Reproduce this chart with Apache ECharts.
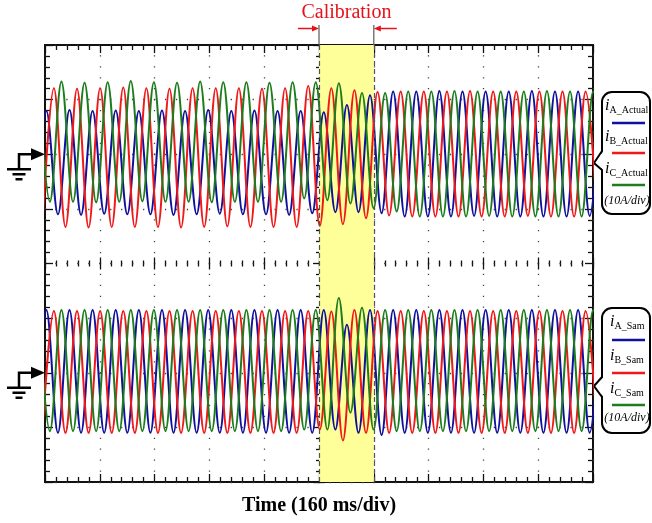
<!DOCTYPE html>
<html><head><meta charset="utf-8">
<script src="https://cdn.jsdelivr.net/npm/echarts@6/dist/echarts.min.js"></script>
<style>html,body{margin:0;padding:0;background:#fff}#c{width:652px;height:523px}</style>
</head><body><div id="c"></div>
<script>
// ---- data ----
// time of each peak / trough (ms); phase A, B, C
const tA = [-29.8, 4, 37.8, 71.5, 105.3, 139, 172.8, 206.5, 240.3, 274,
  307.8, 341.5, 375.3, 409, 442.8, 476.5, 510.3, 544, 577.8, 611.5,
  645.3, 679, 712.8, 746.5, 780.3, 814, 847.8, 881.5, 915.3, 949,
  982.8, 1016.5, 1050.3, 1084, 1117.8, 1151.5, 1185.3, 1219, 1252.8, 1286.5,
  1320.3, 1354, 1387.8, 1421.5, 1455.3, 1489, 1522.8, 1556.5, 1590.3, 1624];
const tB = [-7.8, 26, 59.8, 93.5, 127.3, 161, 194.8, 228.5, 262.3, 296,
  329.8, 363.5, 397.3, 431, 464.8, 498.5, 532.3, 566, 599.8, 633.5,
  667.3, 701, 734.8, 768.5, 802.3, 836, 869.8, 903.5, 937.3, 971,
  1004.8, 1038.5, 1072.3, 1106, 1139.8, 1173.5, 1207.3, 1241, 1274.8, 1308.5,
  1342.3, 1376, 1409.8, 1443.5, 1477.3, 1511, 1544.8, 1578.5, 1612.3];
const tC = [-19.5, 14.3, 48, 81.8, 115.5, 149.3, 183, 216.8, 250.5, 284.3,
  318, 351.8, 385.5, 419.3, 453, 486.8, 520.5, 554.3, 588, 621.8,
  655.5, 689.3, 723, 756.8, 790.5, 824.3, 858, 891.8, 925.5, 959.3,
  993, 1026.8, 1060.5, 1094.3, 1128, 1161.8, 1195.5, 1229.3, 1263, 1296.8,
  1330.5, 1364.3, 1398, 1431.8, 1465.5, 1499.3, 1533, 1566.8, 1600.5, 1634.3];

// actual currents (A) at those instants
const actualA = [-11.0, 7.9, -11.0, 8.1, -11.1, 7.9, -10.9, 8.0, -11.0, 7.9,
  -11.0, 8.0, -11.1, 7.9, -11.0, 8.1, -10.9, 7.9, -11.0, 8.0,
  -11.0, 7.9, -11.1, 7.9, -10.8, 7.7, -10.6, 9.0, -10.6, 10.8,
  -10.8, 11.5, -11.4, 11.5, -11.4, 11.6, -11.4, 11.5, -11.3, 11.5,
  -11.4, 11.5, -11.4, 11.6, -11.4, 11.5, -11.4, 11.5, -11.3, 11.5];
const actualB = [-13.3, 12.1, -13.3, 12.0, -13.4, 12.1, -13.3, 12.2, -13.3, 12.1,
  -13.3, 12.0, -13.4, 12.1, -13.3, 12.1, -13.2, 12.1, -13.3, 12.0,
  -13.3, 12.1, -13.3, 12.5, -13.1, 12.1, -12.8, 11.7, -11.7, 11.4,
  -11.2, 11.5, -11.4, 11.5, -11.4, 11.5, -11.4, 11.6, -11.4, 11.5,
  -11.4, 11.5, -11.3, 11.5, -11.4, 11.5, -11.4, 11.5, -11.4];
const actualC = [13.2, -8.7, 13.3, -8.7, 13.1, -8.8, 13.2, -8.7, 13.4, -8.6,
  13.2, -8.7, 13.1, -8.7, 13.3, -8.8, 13.2, -8.7, 13.2, -8.7,
  13.1, -8.7, 13.2, -8.1, 13.2, -8.4, 13.0, -9.0, 11.2, -9.9,
  11.2, -10.5, 11.5, -11.4, 11.5, -11.4, 11.6, -11.4, 11.5, -11.3,
  11.5, -11.4, 11.5, -11.4, 11.6, -11.4, 11.5, -11.4, 11.5, -11.4];

// sampled currents (A)
const samA = [-11.0, 11.5, -11.0, 11.5, -11.0, 11.5, -11.0, 11.5, -11.0, 11.5,
  -11.0, 11.5, -11.0, 11.5, -11.0, 11.5, -11.0, 11.5, -11.0, 11.5,
  -11.0, 11.5, -11.0, 11.5, -11.0, 11.5, -10.4, 8.8, -11.0, 11.5,
  -11.4, 11.5, -11.0, 11.5, -11.0, 11.5, -11.0, 11.5, -11.0, 11.5,
  -11.0, 11.5, -11.0, 11.5, -11.0, 11.5, -11.0, 11.5, -11.0, 11.5];
const samB = [-11.0, 11.3, -11.0, 11.3, -11.0, 11.3, -11.0, 11.3, -11.0, 11.3,
  -11.0, 11.3, -11.0, 11.3, -11.0, 11.3, -11.0, 11.3, -11.0, 11.3,
  -11.0, 11.3, -11.0, 11.3, -10.4, 11.2, -12.4, 11.5, -11.0, 11.3,
  -11.0, 11.3, -11.0, 11.3, -11.0, 11.3, -11.0, 11.3, -11.0, 11.3,
  -11.0, 11.3, -11.0, 11.3, -11.0, 11.3, -11.0, 11.3, -11.0];
const samC = [11.5, -10.7, 11.5, -10.7, 11.5, -10.7, 11.5, -10.7, 11.5, -10.7,
  11.5, -10.7, 11.5, -10.7, 11.5, -10.7, 11.5, -10.7, 11.5, -10.7,
  11.5, -10.7, 11.5, -10.4, 11.5, -10.4, 13.7, -7.3, 11.9, -10.4,
  11.5, -10.7, 11.5, -10.7, 11.5, -10.7, 11.5, -10.7, 11.5, -10.7,
  11.5, -10.7, 11.5, -10.7, 11.5, -10.7, 11.5, -10.7, 11.5, -10.7];

const calStart = 800, calEnd = 960;      // calibration window (ms)
const timePerDiv = 160, timeMax = 1600;  // ms
const ampPerDiv = 10;                    // A per division
const upperRange = [-60, 20], lowerRange = [-20, 60];
const seriesNames = ['iA_Actual', 'iB_Actual', 'iC_Actual', 'iA_Sam', 'iB_Sam', 'iC_Sam'];
const subLabels = [['A', '_Actual'], ['B', '_Actual'], ['C', '_Actual'], ['A', '_Sam'], ['B', '_Sam'], ['C', '_Sam']];
const divLabel = '(10A/div)';
const xTitle = 'Time (160 ms/div)';
const calLabel = 'Calibration';

// ---- styling ----
const SERIF = '"Liberation Serif","DejaVu Serif","Times New Roman",serif';
const COL = { A: '#10109e', B: '#f01818', C: '#1d7d1d' };
const TICK = '#111';
const pair = (t, v) => t.map((x, i) => [x, v[i]]);

function wave(name, t, v, color, yIdx) {
  return { name, type: 'line', xAxisIndex: 0, yAxisIndex: yIdx, data: pair(t, v),
    smooth: 0.36, showSymbol: false, symbol: 'none', silent: true, z: 3,
    lineStyle: { color, width: 2 }, itemStyle: { color } };
}
function xAx(o) {
  return Object.assign({ type: 'value', min: 0, max: timeMax, interval: timePerDiv,
    axisLine: { show: false, onZero: false }, axisLabel: { show: false },
    splitLine: { show: false } }, o);
}
function yAx(o) {
  return Object.assign({ type: 'value', min: upperRange[0], max: upperRange[1], interval: ampPerDiv,
    axisLine: { show: false, onZero: false }, axisLabel: { show: false },
    splitLine: { show: false } }, o);
}
const tk = (inside, len) => ({ show: true, inside, length: len, lineStyle: { color: TICK, width: 1.3 } });
const mtk = (len) => ({ show: true, splitNumber: 5, length: len, lineStyle: { color: TICK, width: 1.3 } });

const chart = echarts.init(document.getElementById('c'), null, { renderer: 'canvas' });
const GRID = { left: 45, top: 45, width: 548, height: 437 };

const option = {
  animation: false,
  backgroundColor: '#fff',
  grid: Object.assign({ show: true, borderColor: '#111', borderWidth: 2, backgroundColor: 'transparent',
    containLabel: false, outerBoundsMode: 'none' }, GRID),
  xAxis: [
    xAx({ position: 'bottom', axisTick: tk(true, 8), minorTick: mtk(5),
      name: xTitle, nameLocation: 'middle', nameGap: 14,
      nameTextStyle: { fontFamily: SERIF, fontWeight: 'bold', fontSize: 20, color: '#000' },
      splitLine: { show: true, lineStyle: { color: '#444', width: 1.3, type: [1.3, 9.625], dashOffset: 0.65, cap: 'butt' } } }),
    xAx({ position: 'top', axisTick: tk(true, 8), minorTick: mtk(5) }),
    xAx({ position: 'bottom', offset: -GRID.height / 2, axisTick: tk(true, 6), minorTick: mtk(3) }),
    xAx({ position: 'bottom', offset: -GRID.height / 2, axisTick: tk(false, 6), minorTick: mtk(3) })
  ],
  yAxis: [
    yAx({ position: 'left', axisTick: tk(true, 8), minorTick: mtk(5),
      splitLine: { show: true, lineStyle: { color: '#444', width: 1.3, type: [1.3, 9.66], dashOffset: 0.65, cap: 'butt' } } }),
    yAx({ position: 'right', min: lowerRange[0], max: lowerRange[1], axisTick: tk(true, 8), minorTick: mtk(5) }),
    yAx({ position: 'left', offset: -GRID.width / 2, axisTick: tk(true, 6), minorTick: mtk(3) }),
    yAx({ position: 'left', offset: -GRID.width / 2, axisTick: tk(false, 6), minorTick: mtk(3) })
  ],
  series: [
    { name: 'calibration', type: 'line', xAxisIndex: 0, yAxisIndex: 0, data: [[calStart, 0]],
      showSymbol: false, symbol: 'none', lineStyle: { opacity: 0 }, silent: true, z: -1,
      markArea: { silent: true, itemStyle: { color: '#ffff99', opacity: 1 },
        data: [[{ xAxis: calStart }, { xAxis: calEnd }]] } },
    { name: 'calEdges', type: 'line', xAxisIndex: 0, yAxisIndex: 0, data: [[calStart, 0]],
      showSymbol: false, symbol: 'none', lineStyle: { opacity: 0 }, silent: true, z: 1,
      markLine: { silent: true, symbol: 'none', label: { show: false },
        lineStyle: { color: '#555', type: [5, 3], width: 1.2 },
        data: [{ xAxis: calStart }, { xAxis: calEnd }] } },
    wave(seriesNames[0], tA, actualA, COL.A, 0),
    wave(seriesNames[1], tB, actualB, COL.B, 0),
    wave(seriesNames[2], tC, actualC, COL.C, 0),
    wave(seriesNames[3], tA, samA, COL.A, 1),
    wave(seriesNames[4], tB, samB, COL.B, 1),
    wave(seriesNames[5], tC, samC, COL.C, 1)
  ]
};
chart.setOption(option);

// ---- decorations positioned from the axes ----
const X = v => chart.convertToPixel({ xAxisIndex: 0 }, v);
const Yu = v => chart.convertToPixel({ yAxisIndex: 0 }, v);
const Yl = v => chart.convertToPixel({ yAxisIndex: 1 }, v);
const gTop = GRID.top, gRight = GRID.left + GRID.width;
const xs = X(calStart), xe = X(calEnd);
const g = [];
const L = (x1, y1, x2, y2, stroke, w) => ({ type: 'line', silent: true, shape: { x1, y1, x2, y2 }, style: { stroke, lineWidth: w } });

// calibration label and arrows
g.push({ type: 'text', silent: true, x: (xs + xe) / 2, y: 13,
  style: { text: calLabel, fill: '#e8101a', fontFamily: SERIF, fontSize: 20, align: 'center', verticalAlign: 'middle' } });
g.push(L(xs, 25, xs, gTop, '#666', 1.3), L(xe, 25, xe, gTop, '#666', 1.3));
g.push(L(xs - 21, 28.5, xs - 5, 28.5, '#e8101a', 1.5));
g.push({ type: 'polygon', silent: true, shape: { points: [[xs, 28.5], [xs - 7, 25.5], [xs - 7, 31.5]] }, style: { fill: '#e8101a' } });
g.push(L(xe + 5, 28.5, xe + 23, 28.5, '#e8101a', 1.5));
g.push({ type: 'polygon', silent: true, shape: { points: [[xe, 28.5], [xe + 7, 25.5], [xe + 7, 31.5]] }, style: { fill: '#e8101a' } });

// ground markers
function ground(y) {
  g.push({ type: 'polyline', silent: true, shape: { points: [[32, y], [19, y], [19, y + 15]] }, style: { stroke: '#000', lineWidth: 2.5, fill: null } });
  g.push({ type: 'polygon', silent: true, shape: { points: [[45, y], [31, y - 6], [31, y + 6]] }, style: { fill: '#000' } });
  g.push(L(7, y + 15, 31, y + 15, '#000', 2.5));
  g.push(L(12.5, y + 20, 25.5, y + 20, '#000', 2.5));
  g.push(L(15.5, y + 25, 22.5, y + 25, '#000', 2.5));
}
ground(Yu(0));
ground(Yl(0));

// legend call-outs
const rich = {
  i: { fontFamily: SERIF, fontStyle: 'italic', fontSize: 16, lineHeight: 18, fill: '#000' },
  s: { fontFamily: SERIF, fontSize: 10, lineHeight: 14, verticalAlign: 'bottom', fill: '#000' }
};
function callout(box, ptr, textX, textYs, lineYs, divY, idx0) {
  g.push({ type: 'rect', silent: true, shape: { x: box[0], y: box[1], width: box[2], height: box[3], r: 10 },
    style: { fill: '#fff', stroke: '#000', lineWidth: 2 } });
  g.push({ type: 'polygon', silent: true, shape: { points: [[box[0] + 1.5, ptr[0]], [gRight + 1, ptr[1]], [box[0] + 1.5, ptr[2]]] }, style: { fill: '#fff' } });
  g.push({ type: 'polyline', silent: true, shape: { points: [[box[0], ptr[0]], [gRight + 1, ptr[1]], [box[0], ptr[2]]] }, style: { stroke: '#000', lineWidth: 2, fill: null } });
  const cols = [COL.A, COL.B, COL.C];
  for (let k = 0; k < 3; k++) {
    const s = subLabels[idx0 + k];
    g.push({ type: 'text', silent: true, x: textX, y: textYs[k],
      style: { text: '{i|i}{s|' + s[0] + s[1] + '}', rich, align: 'left', verticalAlign: 'middle' } });
    g.push(L(box[0] + 10, lineYs[k], box[0] + 43, lineYs[k], cols[k], 2.5));
  }
  g.push({ type: 'text', silent: true, x: box[0] + 25, y: divY,
    style: { text: divLabel, fill: '#000', fontFamily: SERIF, fontStyle: 'italic', fontSize: 12, align: 'center', verticalAlign: 'middle' } });
}
callout([602, 92, 48, 122], [151, 163, 170], 605, [106, 137, 169], [123, 153, 185], 201, 0);
callout([602, 308, 48, 125], [377, 386, 397], 610, [322, 356, 389], [340, 373, 405], 418, 3);

chart.setOption({ graphic: g });
</script>
</body></html>
